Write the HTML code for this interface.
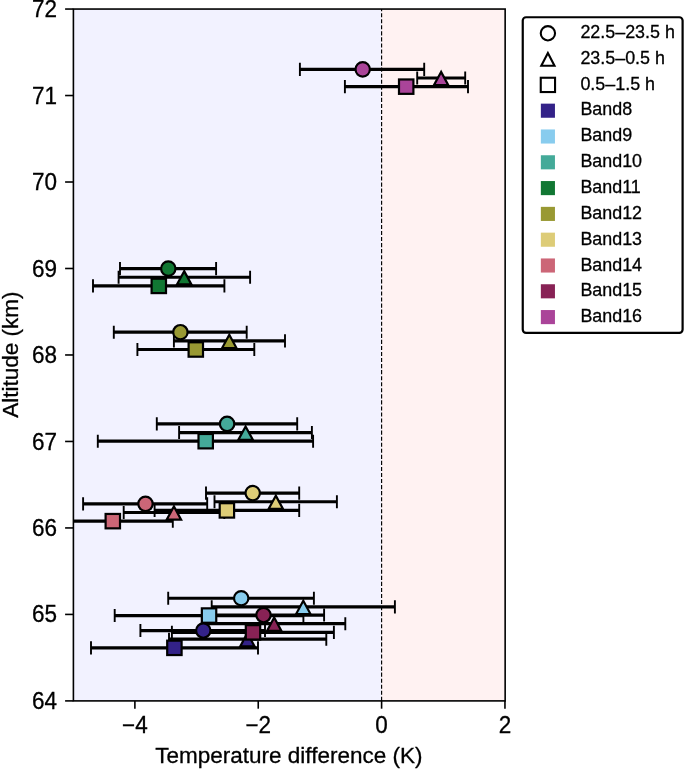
<!DOCTYPE html>
<html><head><meta charset="utf-8"><title>Chart</title>
<style>html,body{margin:0;padding:0;background:#fff;}svg{display:block;will-change:transform;}text{font-family:"Liberation Sans",sans-serif;fill:#000;stroke:#000;stroke-width:0.3px;}</style>
</head><body>
<svg width="685" height="769" viewBox="0 0 685 769">
<rect x="0" y="0" width="685" height="769" fill="#ffffff"/>
<rect x="73.4" y="9.05" width="431.75" height="691.85" fill="#f2f2ff"/>
<rect x="381.6" y="9.05" width="123.55" height="691.85" fill="#fff2f2"/>
<line x1="381.6" y1="700.9" x2="381.6" y2="9.05" stroke="#000" stroke-width="1.15" stroke-dasharray="4.1 1.95"/>
<clipPath id="ax"><rect x="73.4" y="9.05" width="431.75" height="691.85"/></clipPath>
<g clip-path="url(#ax)" stroke="#000" fill="none">
<line x1="140.4" y1="630.55" x2="265.0" y2="630.55" stroke-width="3.2"/>
<line x1="140.4" y1="624.00" x2="140.4" y2="637.10" stroke-width="1.9"/>
<line x1="265.0" y1="624.00" x2="265.0" y2="637.10" stroke-width="1.9"/>
<line x1="169.0" y1="639.2" x2="326.3" y2="639.2" stroke-width="3.2"/>
<line x1="169.0" y1="632.65" x2="169.0" y2="645.75" stroke-width="1.9"/>
<line x1="326.3" y1="632.65" x2="326.3" y2="645.75" stroke-width="1.9"/>
<line x1="91.0" y1="647.85" x2="258.0" y2="647.85" stroke-width="3.2"/>
<line x1="91.0" y1="641.30" x2="91.0" y2="654.40" stroke-width="1.9"/>
<line x1="258.0" y1="641.30" x2="258.0" y2="654.40" stroke-width="1.9"/>
<line x1="168.2" y1="598.25" x2="313.9" y2="598.25" stroke-width="3.2"/>
<line x1="168.2" y1="591.70" x2="168.2" y2="604.80" stroke-width="1.9"/>
<line x1="313.9" y1="591.70" x2="313.9" y2="604.80" stroke-width="1.9"/>
<line x1="211.7" y1="606.9" x2="394.9" y2="606.9" stroke-width="3.2"/>
<line x1="211.7" y1="600.35" x2="211.7" y2="613.45" stroke-width="1.9"/>
<line x1="394.9" y1="600.35" x2="394.9" y2="613.45" stroke-width="1.9"/>
<line x1="114.7" y1="615.55" x2="303.4" y2="615.55" stroke-width="3.2"/>
<line x1="114.7" y1="609.00" x2="114.7" y2="622.10" stroke-width="1.9"/>
<line x1="303.4" y1="609.00" x2="303.4" y2="622.10" stroke-width="1.9"/>
<line x1="156.8" y1="423.9" x2="297.2" y2="423.9" stroke-width="3.2"/>
<line x1="156.8" y1="417.35" x2="156.8" y2="430.45" stroke-width="1.9"/>
<line x1="297.2" y1="417.35" x2="297.2" y2="430.45" stroke-width="1.9"/>
<line x1="179.1" y1="432.55" x2="311.9" y2="432.55" stroke-width="3.2"/>
<line x1="179.1" y1="426.00" x2="179.1" y2="439.10" stroke-width="1.9"/>
<line x1="311.9" y1="426.00" x2="311.9" y2="439.10" stroke-width="1.9"/>
<line x1="97.8" y1="441.2" x2="313.1" y2="441.2" stroke-width="3.2"/>
<line x1="97.8" y1="434.65" x2="97.8" y2="447.75" stroke-width="1.9"/>
<line x1="313.1" y1="434.65" x2="313.1" y2="447.75" stroke-width="1.9"/>
<line x1="120.0" y1="268.6" x2="216.1" y2="268.6" stroke-width="3.2"/>
<line x1="120.0" y1="262.05" x2="120.0" y2="275.15" stroke-width="1.9"/>
<line x1="216.1" y1="262.05" x2="216.1" y2="275.15" stroke-width="1.9"/>
<line x1="118.6" y1="277.25" x2="250.1" y2="277.25" stroke-width="3.2"/>
<line x1="118.6" y1="270.70" x2="118.6" y2="283.80" stroke-width="1.9"/>
<line x1="250.1" y1="270.70" x2="250.1" y2="283.80" stroke-width="1.9"/>
<line x1="93.0" y1="285.9" x2="224.4" y2="285.9" stroke-width="3.2"/>
<line x1="93.0" y1="279.35" x2="93.0" y2="292.45" stroke-width="1.9"/>
<line x1="224.4" y1="279.35" x2="224.4" y2="292.45" stroke-width="1.9"/>
<line x1="113.8" y1="332.2" x2="246.7" y2="332.2" stroke-width="3.2"/>
<line x1="113.8" y1="325.65" x2="113.8" y2="338.75" stroke-width="1.9"/>
<line x1="246.7" y1="325.65" x2="246.7" y2="338.75" stroke-width="1.9"/>
<line x1="173.9" y1="340.85" x2="285.0" y2="340.85" stroke-width="3.2"/>
<line x1="173.9" y1="334.30" x2="173.9" y2="347.40" stroke-width="1.9"/>
<line x1="285.0" y1="334.30" x2="285.0" y2="347.40" stroke-width="1.9"/>
<line x1="137.4" y1="349.5" x2="254.3" y2="349.5" stroke-width="3.2"/>
<line x1="137.4" y1="342.95" x2="137.4" y2="356.05" stroke-width="1.9"/>
<line x1="254.3" y1="342.95" x2="254.3" y2="356.05" stroke-width="1.9"/>
<line x1="206.0" y1="493.1" x2="299.2" y2="493.1" stroke-width="3.2"/>
<line x1="206.0" y1="486.55" x2="206.0" y2="499.65" stroke-width="1.9"/>
<line x1="299.2" y1="486.55" x2="299.2" y2="499.65" stroke-width="1.9"/>
<line x1="214.5" y1="501.75" x2="336.9" y2="501.75" stroke-width="3.2"/>
<line x1="214.5" y1="495.20" x2="214.5" y2="508.30" stroke-width="1.9"/>
<line x1="336.9" y1="495.20" x2="336.9" y2="508.30" stroke-width="1.9"/>
<line x1="154.6" y1="510.4" x2="299.2" y2="510.4" stroke-width="3.2"/>
<line x1="154.6" y1="503.85" x2="154.6" y2="516.95" stroke-width="1.9"/>
<line x1="299.2" y1="503.85" x2="299.2" y2="516.95" stroke-width="1.9"/>
<line x1="83.1" y1="503.85" x2="207.2" y2="503.85" stroke-width="3.2"/>
<line x1="83.1" y1="497.30" x2="83.1" y2="510.40" stroke-width="1.9"/>
<line x1="207.2" y1="497.30" x2="207.2" y2="510.40" stroke-width="1.9"/>
<line x1="123.7" y1="512.5" x2="224.3" y2="512.5" stroke-width="3.2"/>
<line x1="123.7" y1="505.95" x2="123.7" y2="519.05" stroke-width="1.9"/>
<line x1="224.3" y1="505.95" x2="224.3" y2="519.05" stroke-width="1.9"/>
<line x1="52.8" y1="521.15" x2="172.8" y2="521.15" stroke-width="3.2"/>
<line x1="52.8" y1="514.60" x2="52.8" y2="527.70" stroke-width="1.9"/>
<line x1="172.8" y1="514.60" x2="172.8" y2="527.70" stroke-width="1.9"/>
<line x1="202.9" y1="615.05" x2="324.1" y2="615.05" stroke-width="3.2"/>
<line x1="202.9" y1="608.50" x2="202.9" y2="621.60" stroke-width="1.9"/>
<line x1="324.1" y1="608.50" x2="324.1" y2="621.60" stroke-width="1.9"/>
<line x1="203.1" y1="623.7" x2="345.3" y2="623.7" stroke-width="3.2"/>
<line x1="203.1" y1="617.15" x2="203.1" y2="630.25" stroke-width="1.9"/>
<line x1="345.3" y1="617.15" x2="345.3" y2="630.25" stroke-width="1.9"/>
<line x1="171.9" y1="632.35" x2="333.9" y2="632.35" stroke-width="3.2"/>
<line x1="171.9" y1="625.80" x2="171.9" y2="638.90" stroke-width="1.9"/>
<line x1="333.9" y1="625.80" x2="333.9" y2="638.90" stroke-width="1.9"/>
<line x1="299.9" y1="69.35" x2="424.2" y2="69.35" stroke-width="3.2"/>
<line x1="299.9" y1="62.80" x2="299.9" y2="75.90" stroke-width="1.9"/>
<line x1="424.2" y1="62.80" x2="424.2" y2="75.90" stroke-width="1.9"/>
<line x1="417.2" y1="78.0" x2="465.2" y2="78.0" stroke-width="3.2"/>
<line x1="417.2" y1="71.45" x2="417.2" y2="84.55" stroke-width="1.9"/>
<line x1="465.2" y1="71.45" x2="465.2" y2="84.55" stroke-width="1.9"/>
<line x1="344.9" y1="86.65" x2="468.0" y2="86.65" stroke-width="3.2"/>
<line x1="344.9" y1="80.10" x2="344.9" y2="93.20" stroke-width="1.9"/>
<line x1="468.0" y1="80.10" x2="468.0" y2="93.20" stroke-width="1.9"/>
</g>
<g clip-path="url(#ax)" stroke="#000" stroke-width="2.2" stroke-linejoin="miter">
<circle cx="203.3" cy="630.55" r="7.20" fill="#332288"/>
<path d="M247.40 633.10L240.20 646.40L254.60 646.40Z" fill="#332288"/>
<rect x="167.20" y="640.65" width="14.4" height="14.4" fill="#332288"/>
<circle cx="241.2" cy="598.25" r="7.20" fill="#88CCEE"/>
<path d="M303.30 600.80L296.10 614.10L310.50 614.10Z" fill="#88CCEE"/>
<rect x="201.85" y="608.35" width="14.4" height="14.4" fill="#88CCEE"/>
<circle cx="227.1" cy="423.9" r="7.20" fill="#44AA99"/>
<path d="M245.60 426.45L238.40 439.75L252.80 439.75Z" fill="#44AA99"/>
<rect x="198.50" y="434.00" width="14.4" height="14.4" fill="#44AA99"/>
<circle cx="168.3" cy="268.6" r="7.20" fill="#117733"/>
<path d="M184.20 271.15L177.00 284.45L191.40 284.45Z" fill="#117733"/>
<rect x="151.60" y="278.70" width="14.4" height="14.4" fill="#117733"/>
<circle cx="180.4" cy="332.2" r="7.20" fill="#999933"/>
<path d="M229.30 334.75L222.10 348.05L236.50 348.05Z" fill="#999933"/>
<rect x="188.60" y="342.30" width="14.4" height="14.4" fill="#999933"/>
<circle cx="252.7" cy="493.1" r="7.20" fill="#DDCC77"/>
<path d="M275.80 495.65L268.60 508.95L283.00 508.95Z" fill="#DDCC77"/>
<rect x="219.70" y="503.20" width="14.4" height="14.4" fill="#DDCC77"/>
<circle cx="145.5" cy="503.85" r="7.20" fill="#CC6677"/>
<path d="M173.90 506.40L166.70 519.70L181.10 519.70Z" fill="#CC6677"/>
<rect x="105.60" y="513.95" width="14.4" height="14.4" fill="#CC6677"/>
<circle cx="263.5" cy="615.05" r="7.20" fill="#882255"/>
<path d="M274.20 617.60L267.00 630.90L281.40 630.90Z" fill="#882255"/>
<rect x="245.80" y="625.15" width="14.4" height="14.4" fill="#882255"/>
<circle cx="362.7" cy="69.35" r="7.20" fill="#AA4499"/>
<path d="M441.10 71.90L433.90 85.20L448.30 85.20Z" fill="#AA4499"/>
<rect x="399.00" y="79.45" width="14.4" height="14.4" fill="#AA4499"/>
</g>
<rect x="73.4" y="9.05" width="431.75" height="691.85" fill="none" stroke="#000" stroke-width="1.6"/>
<g stroke="#000" stroke-width="1.6">
<line x1="134.89" y1="700.9" x2="134.89" y2="708.70"/>
<line x1="258.24" y1="700.9" x2="258.24" y2="708.70"/>
<line x1="381.60" y1="700.9" x2="381.60" y2="708.70"/>
<line x1="504.96" y1="700.9" x2="504.96" y2="708.70"/>
<line x1="65.10" y1="700.90" x2="73.4" y2="700.90"/>
<line x1="65.10" y1="614.42" x2="73.4" y2="614.42"/>
<line x1="65.10" y1="527.94" x2="73.4" y2="527.94"/>
<line x1="65.10" y1="441.46" x2="73.4" y2="441.46"/>
<line x1="65.10" y1="354.97" x2="73.4" y2="354.97"/>
<line x1="65.10" y1="268.49" x2="73.4" y2="268.49"/>
<line x1="65.10" y1="182.01" x2="73.4" y2="182.01"/>
<line x1="65.10" y1="95.53" x2="73.4" y2="95.53"/>
<line x1="65.10" y1="9.05" x2="73.4" y2="9.05"/>
</g>
<g font-size="22.5">
<text transform="translate(134.89 732.8) scale(1 1.04)" text-anchor="middle">−4</text>
<text transform="translate(258.24 732.8) scale(1 1.04)" text-anchor="middle">−2</text>
<text transform="translate(381.60 732.8) scale(1 1.04)" text-anchor="middle">0</text>
<text transform="translate(504.96 732.8) scale(1 1.04)" text-anchor="middle">2</text>
<text transform="translate(57.1 708.95) scale(1 1.04)" text-anchor="end">64</text>
<text transform="translate(57.1 622.47) scale(1 1.04)" text-anchor="end">65</text>
<text transform="translate(57.1 535.99) scale(1 1.04)" text-anchor="end">66</text>
<text transform="translate(57.1 449.51) scale(1 1.04)" text-anchor="end">67</text>
<text transform="translate(57.1 363.02) scale(1 1.04)" text-anchor="end">68</text>
<text transform="translate(57.1 276.54) scale(1 1.04)" text-anchor="end">69</text>
<text transform="translate(57.1 190.06) scale(1 1.04)" text-anchor="end">70</text>
<text transform="translate(57.1 103.58) scale(1 1.04)" text-anchor="end">71</text>
<text transform="translate(57.1 17.10) scale(1 1.04)" text-anchor="end">72</text>
</g>
<text x="288.9" y="763.0" font-size="22.5" text-anchor="middle">Temperature difference (K)</text>
<text transform="translate(18.1 354.6) rotate(-90)" font-size="22.5" text-anchor="middle">Altitude (km)</text>
<rect x="522.75" y="17.25" width="159.85" height="315.6" rx="3.3" ry="3.3" fill="#fff" stroke="#000" stroke-width="2.2"/>
<g fill="none" stroke="#000" stroke-width="2.1" stroke-linejoin="miter">
<circle cx="547.9" cy="33.30" r="7.15"/>
<path d="M547.9 53.00L541.30 65.70L554.50 65.70Z"/>
<rect x="540.75" y="77.75" width="14.3" height="14.3"/>
</g>
<rect x="540.85" y="103.65" width="14.1" height="14.1" fill="#332288"/>
<rect x="540.85" y="129.45" width="14.1" height="14.1" fill="#88CCEE"/>
<rect x="540.85" y="155.25" width="14.1" height="14.1" fill="#44AA99"/>
<rect x="540.85" y="181.05" width="14.1" height="14.1" fill="#117733"/>
<rect x="540.85" y="206.85" width="14.1" height="14.1" fill="#999933"/>
<rect x="540.85" y="232.65" width="14.1" height="14.1" fill="#DDCC77"/>
<rect x="540.85" y="258.45" width="14.1" height="14.1" fill="#CC6677"/>
<rect x="540.85" y="284.25" width="14.1" height="14.1" fill="#882255"/>
<rect x="540.85" y="310.05" width="14.1" height="14.1" fill="#AA4499"/>
<g font-size="17.9">
<text x="580.4" y="37.80">22.5–23.5 h</text>
<text x="580.4" y="63.66">23.5–0.5 h</text>
<text x="580.4" y="89.52">0.5–1.5 h</text>
<text x="580.4" y="115.38">Band8</text>
<text x="580.4" y="141.24">Band9</text>
<text x="580.4" y="167.10">Band10</text>
<text x="580.4" y="192.96">Band11</text>
<text x="580.4" y="218.82">Band12</text>
<text x="580.4" y="244.68">Band13</text>
<text x="580.4" y="270.54">Band14</text>
<text x="580.4" y="296.40">Band15</text>
<text x="580.4" y="322.26">Band16</text>
</g>
</svg>
</body></html>
